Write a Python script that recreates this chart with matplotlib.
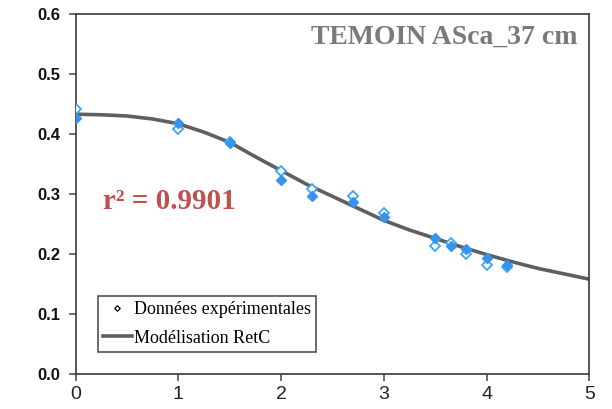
""" drying curve for the TEMOIN ASca_37 cm sample, data vs RetC model """

import matplotlib
matplotlib.use("Agg")
from matplotlib import pyplot as plt
from matplotlib.lines import Line2D

x_hollow = [0.0, 1.0, 1.5, 2.0, 2.3, 2.7, 3.0, 3.5, 3.65, 3.8, 4.0, 4.2]
y_hollow = [0.442, 0.409, 0.387, 0.339, 0.309, 0.297, 0.269, 0.214, 0.219, 0.200, 0.182, 0.178]
x_filled = [0.0, 1.0, 1.5, 2.0, 2.3, 2.7, 3.0, 3.5, 3.65, 3.8, 4.0, 4.2]
y_filled = [0.427, 0.419, 0.385, 0.323, 0.297, 0.287, 0.262, 0.227, 0.214, 0.209, 0.193, 0.182]

# RetC model curve
x_model = [0.0, 0.25, 0.5, 0.75, 1.0, 1.25, 1.5, 1.75, 2.0, 2.25, 2.5, 2.75, 3.0,
           3.25, 3.5, 3.75, 4.0, 4.25, 4.5, 4.75, 5.0]
y_model = [0.433, 0.432, 0.430, 0.425, 0.417, 0.403, 0.386, 0.362, 0.339, 0.316, 0.296,
           0.276, 0.256, 0.240, 0.226, 0.212, 0.199, 0.187, 0.176, 0.167, 0.158]

x_ticks = [0, 1, 2, 3, 4, 5]
y_ticks = [0.0, 0.1, 0.2, 0.3, 0.4, 0.5, 0.6]

title_text = "TEMOIN ASca_37 cm"
r2_text = "r² = 0.9901"
legend_labels = ["Données expérimentales", "Modélisation RetC"]

SERIF = ["Liberation Serif", "DejaVu Serif"]
SANS = ["Liberation Sans", "DejaVu Sans"]

fig = plt.figure(figsize=(6.12, 4.09), dpi=100)
ax = fig.add_axes([0.1237, 0.0856, 0.8392, 0.8802])

ax.plot(x_model, y_model, color="#5f5f5f", linewidth=2.6, zorder=2)
ax.plot(x_hollow, y_hollow, linestyle="none", marker="D", markersize=4.6,
        markerfacecolor="white", markeredgecolor="#3aa8f5", markeredgewidth=1.3, zorder=3)
ax.plot(x_filled, y_filled, linestyle="none", marker="D", markersize=4.8,
        markerfacecolor="#3793f0", markeredgecolor="#3793f0", zorder=4)

ax.set_xlim(0, 5)
ax.set_ylim(0, 0.6)
ax.set_xticks(x_ticks)
ax.set_yticks(y_ticks)
ax.set_xticklabels([str(t) for t in x_ticks], fontsize=14, family=SANS, color="#222222")
ax.set_yticklabels([f"{t:.1f}" for t in y_ticks], fontsize=12, family=SANS,
                   fontweight="bold", color="#111111")
ax.tick_params(direction="out", length=5, width=1.1, color="#444444")
ax.tick_params(axis="y", pad=6)
ax.tick_params(axis="x", pad=4)
for spine in ax.spines.values():
	spine.set_color("#3a3a3a")
	spine.set_linewidth(1.2)

ax.text(0.978, 0.936, title_text, transform=ax.transAxes, ha="right", va="center",
        fontsize=20, fontweight="bold", family=SERIF, color="#7a7a7a")
ax.text(0.053, 0.48, r2_text, transform=ax.transAxes, ha="left", va="center",
        fontsize=21, fontweight="bold", family=SERIF, color="#c0504d")

handles = [
	Line2D([], [], linestyle="none", marker="D", markersize=2.8,
	       markerfacecolor="white", markeredgecolor="black", markeredgewidth=0.9),
	Line2D([], [], color="#5f5f5f", linewidth=2.6),
]
leg = ax.legend(handles, legend_labels, loc="lower left", bbox_to_anchor=(0.043, 0.062),
                borderaxespad=0, fancybox=False, framealpha=1, edgecolor="#444444",
                prop={"family": SERIF, "size": 13}, handlelength=1.6, handletextpad=0.1,
                borderpad=0.28, labelspacing=0.62)
leg.get_frame().set_linewidth(1.1)

fig.savefig("out.png", dpi=100)
